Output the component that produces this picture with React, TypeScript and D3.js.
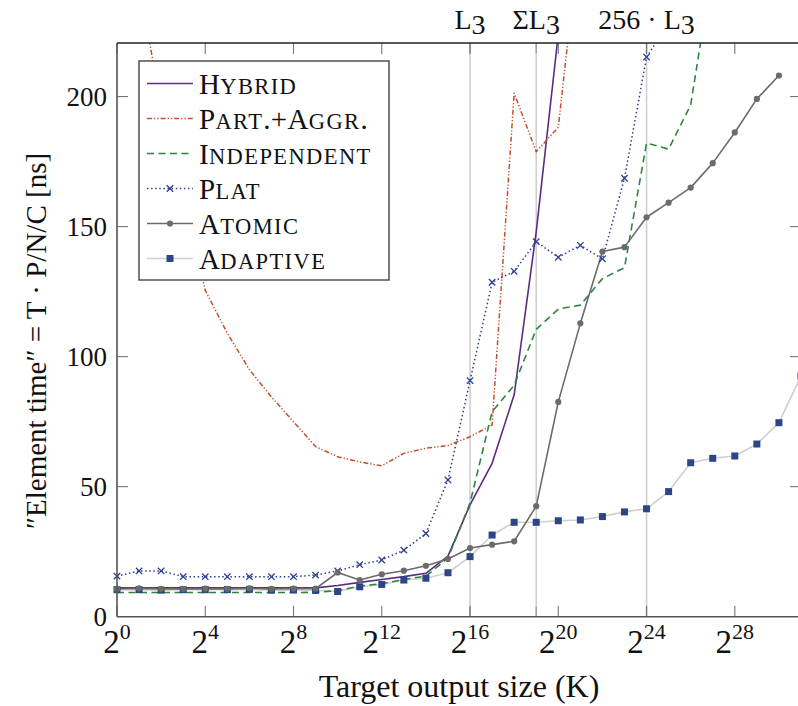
import React from "react";
import * as d3 from "d3";

// ---- data (x = exponent k of 2^k) ----
const hybridExp = d3.range(0, 21);
const hybridVals = [11.1, 11.1, 11.1, 11.1, 11.1, 11.1, 11.1, 11.1, 11.1, 11.1, 12, 13.2, 14.3, 15.4, 16.7, 23.3, 43, 59, 85.3, 148, 224];

const partExp = d3.range(0, 22);
const partVals = [290, 245, 195, 160, 125.5, 109, 95, 84.5, 75, 65.4, 61.5, 59.5, 58, 62.8, 64.8, 65.8, 69.2, 73.7, 201.3, 178.8, 188.2, 265];

const indepExp = d3.range(0, 28);
const indepVals = [9.3, 9.3, 9.3, 9.3, 9.3, 9.3, 9.3, 9.3, 9.3, 9.4, 10, 11.8, 12.7, 14.3, 15.6, 22.5, 43.7, 78.8, 89, 110.5, 118.3, 119.8, 130, 134.2, 182.1, 179.8, 196.8, 250];

const platExp = d3.range(0, 26);
const platVals = [15.6, 17.6, 17.6, 15.4, 15.4, 15.4, 15.4, 15.4, 15.4, 16, 17.6, 20, 21.8, 25.6, 32, 52.6, 90.8, 128.6, 132.8, 144.2, 138.2, 142.8, 137.6, 168.6, 215.2, 228];

const atomicExp = d3.range(0, 31);
const atomicVals = [10.7, 10.9, 10.7, 10.7, 10.8, 10.7, 10.9, 10.7, 10.8, 10.8, 17, 14.1, 16.3, 17.7, 19.6, 22.2, 26.4, 27.7, 29, 42.5, 82.6, 112.8, 140.4, 142.1, 153.6, 159.2, 165, 174.4, 186.2, 199.1, 208.1];

const adaptiveExp = d3.range(0, 32);
const adaptiveVals = [10.4, 10.4, 10.2, 10.4, 10.4, 10.4, 10.5, 10.2, 10.3, 10.1, 9.7, 11.5, 12.4, 14.1, 14.8, 16.9, 23.1, 31.4, 36.3, 36.3, 36.9, 37.2, 38.5, 40.3, 41.5, 48.1, 59.2, 60.9, 61.8, 66.4, 74.6, 92.5];

const xTickExps = [0, 4, 8, 12, 16, 20, 24, 28];
const yTicks = [0, 50, 100, 150, 200];
const markerExps = [16, 19, 24];
const markerLabels = ["L3", "ΣL3", "256 · L3"];

const seriesNames = ["Hybrid", "Part.+Aggr.", "Independent", "Plat", "Atomic", "Adaptive"];

const W = 798;
const H = 706;
const L = 117, R = 801, T = 43, B = 616.7;

const x = d3.scaleLinear().domain([0, 31]).range([L, R]);
const y = d3.scaleLinear().domain([0, 220.6]).range([B, T]);

type S = {
  name: string; exps: number[]; vals: number[]; stroke: string; width: number; dash?: string;
  marker?: "x" | "circle" | "square"; mfill?: string;
};

const series: S[] = [
  { name: seriesNames[0], exps: hybridExp, vals: hybridVals, stroke: "#5b2c83", width: 1.6 },
  { name: seriesNames[1], exps: partExp, vals: partVals, stroke: "#c4502a", width: 1.5, dash: "5,2,1.3,2,1.3,2" },
  { name: seriesNames[2], exps: indepExp, vals: indepVals, stroke: "#2e8540", width: 1.6, dash: "7,4.5" },
  { name: seriesNames[3], exps: platExp, vals: platVals, stroke: "#2b3f93", width: 1.5, dash: "1.5,2.6", marker: "x", mfill: "#2b3f93" },
  { name: seriesNames[4], exps: atomicExp, vals: atomicVals, stroke: "#6b6b6b", width: 1.6, marker: "circle", mfill: "#6b6b6b" },
  { name: seriesNames[5], exps: adaptiveExp, vals: adaptiveVals, stroke: "#cfcfcf", width: 1.6, marker: "square", mfill: "#2b4586" },
];

const drawOrder = [5, 0, 1, 2, 3, 4];

const FONT = "'Liberation Serif', 'DejaVu Serif', serif";

function Marker({ kind, cx, cy, fill }: { kind?: string; cx: number; cy: number; fill?: string }) {
  if (kind === "x") {
    const s = 3.2;
    return (
      <path d={`M${cx - s},${cy - s}L${cx + s},${cy + s}M${cx - s},${cy + s}L${cx + s},${cy - s}`} stroke={fill} strokeWidth={1.3} fill="none" />
    );
  }
  if (kind === "circle") return <circle cx={cx} cy={cy} r={3.1} fill={fill} />;
  if (kind === "square") return <rect x={cx - 3.5} y={cy - 3.5} width={7} height={7} fill={fill} />;
  return null;
}

// manual small caps: lowercase letters -> smaller uppercase, slightly spaced
function smallCapsRuns(s: string) {
  const runs: { t: string; small: boolean }[] = [];
  for (const ch of s) {
    const small = ch >= "a" && ch <= "z";
    const t = small ? ch.toUpperCase() : ch;
    const last = runs[runs.length - 1];
    if (last && last.small === small) last.t += t;
    else runs.push({ t, small });
  }
  return runs;
}

export default function App() {
  const line = d3.line<[number, number]>().x((d) => x(d[0])).y((d) => y(d[1]));
  const yMax = y.domain()[1];
  return (
    <svg width={W} height={H} style={{ position: "absolute", left: 0, top: 0, background: "#fff" }} fontFamily={FONT}>
      <defs>
        <clipPath id="plotclip">
          <rect x={L} y={T} width={R - L} height={B - T} />
        </clipPath>
      </defs>
      <rect x={0} y={0} width={W} height={H} fill="#fff" />
      {/* cache-size marker lines */}
      {markerExps.map((e) => (
        <g key={e}>
          <line x1={x(e)} x2={x(e)} y1={T} y2={B} stroke="#cfcfcf" strokeWidth={1.6} />
          <line x1={x(e)} x2={x(e)} y1={T} y2={T + 10} stroke="#999" strokeWidth={1.3} />
          <line x1={x(e)} x2={x(e)} y1={B} y2={B - 10} stroke="#999" strokeWidth={1.3} />
        </g>
      ))}
      {markerExps.map((e, i) => {
        const lab = markerLabels[i];
        const base = lab.slice(0, -1);
        return (
          <text key={"ml" + e} x={x(e)} y={29} fontSize={28} textAnchor="middle" fill="#111">
            {base}
            <tspan dy={5}>3</tspan>
          </text>
        );
      })}
      {/* ticks */}
      {xTickExps.map((e) => (
        <g key={"xt" + e}>
          <line x1={x(e)} x2={x(e)} y1={B} y2={B - 11} stroke="#777" strokeWidth={1.1} />
          <line x1={x(e)} x2={x(e)} y1={T} y2={T + 11} stroke="#777" strokeWidth={1.1} />
          <text x={x(e)} y={653} fontSize={33} textAnchor="middle" fill="#111">
            2<tspan dy={-14} fontSize={22}>{e}</tspan>
          </text>
        </g>
      ))}
      {yTicks.map((v) => (
        <g key={"yt" + v}>
          {v > 0 && <line x1={L} x2={L + 11} y1={y(v)} y2={y(v)} stroke="#777" strokeWidth={1.1} />}
          {v > 0 && <line x1={R} x2={R - 11} y1={y(v)} y2={y(v)} stroke="#777" strokeWidth={1.1} />}
          <text x={107} y={y(v) + 9} fontSize={27} textAnchor="end" fill="#111">{v}</text>
        </g>
      ))}
      {/* series */}
      <g clipPath="url(#plotclip)">
        {drawOrder.map((i) => {
          const s = series[i];
          const pts = s.exps.map((e, j) => [e, s.vals[j]] as [number, number]);
          return (
            <path key={s.name} d={line(pts) || ""} fill="none" stroke={s.stroke} strokeWidth={s.width}
              strokeDasharray={s.dash} strokeLinejoin="round" />
          );
        })}
      </g>
      {drawOrder.map((i) => {
        const s = series[i];
        if (!s.marker) return null;
        return (
          <g key={"m" + s.name}>
            {s.exps.map((e, j) => s.vals[j] <= yMax ? (
              <Marker key={j} kind={s.marker} cx={x(e)} cy={y(s.vals[j])} fill={s.mfill} />
            ) : null)}
          </g>
        );
      })}
      {/* axes frame */}
      <line x1={L} x2={L} y1={T} y2={B} stroke="#555" strokeWidth={1.6} />
      <line x1={L} x2={R} y1={B} y2={B} stroke="#555" strokeWidth={1.6} />
      <line x1={L} x2={R} y1={T} y2={T} stroke="#222" strokeWidth={1.6} />
      <line x1={R} x2={R} y1={T} y2={B} stroke="#555" strokeWidth={1.6} />
      {/* legend */}
      <g>
        <rect x={139} y={61} width={250} height={219} fill="#fff" stroke="#444" strokeWidth={1.4} />
        {series.map((s, i) => {
          const cy = 83.5 + i * 35;
          return (
            <g key={"lg" + i}>
              <line x1={147} x2={193} y1={cy} y2={cy} stroke={s.stroke} strokeWidth={s.width}
                strokeDasharray={s.dash} />
              {s.marker && <Marker kind={s.marker} cx={170} cy={cy} fill={s.mfill} />}
              <text x={199} y={cy + 10} fontSize={29} fill="#111">
                {smallCapsRuns(s.name).map((r, k) => (
                  <tspan key={k} fontSize={r.small ? 22.5 : 29} letterSpacing={r.small ? 1.4 : 0.3}>{r.t}</tspan>
                ))}
              </text>
            </g>
          );
        })}
      </g>
      {/* axis labels */}
      <text x={459} y={697} fontSize={32} textAnchor="middle" fill="#111">Target output size (K)</text>
      <text transform="translate(46,341) rotate(-90)" fontSize={29} textAnchor="middle" fill="#111">
        ″Element time″ = T · P/N/C [ns]
      </text>
    </svg>
  );
}
